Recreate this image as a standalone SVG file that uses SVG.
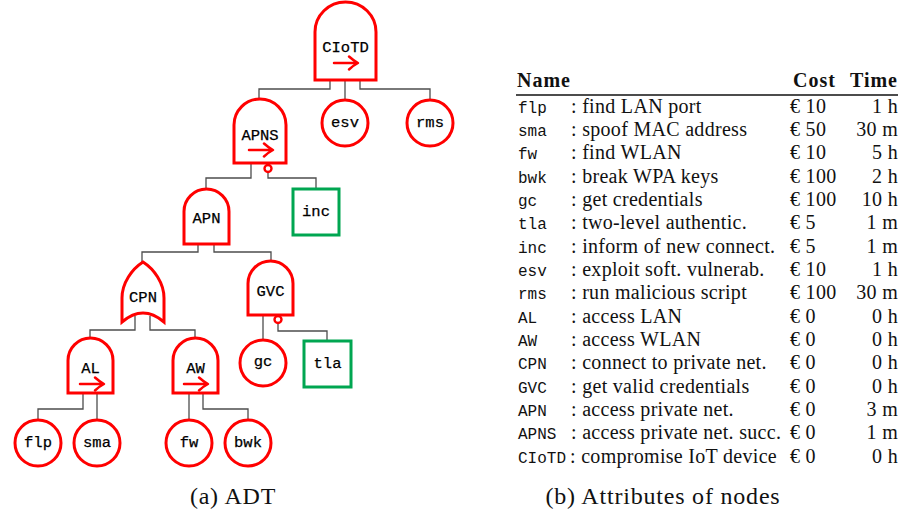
<svg xmlns="http://www.w3.org/2000/svg" width="904" height="517" viewBox="0 0 904 517">
<defs>
<style>
.gate{fill:#fff;stroke:#ff0000;stroke-width:3;stroke-linejoin:miter}
.leaf{fill:#fff;stroke:#ff0000;stroke-width:3}
.cm{fill:#fff;stroke:#00a651;stroke-width:3}
.neg{fill:#fff;stroke:#ff0000;stroke-width:2.4}
.arr{fill:none;stroke:#ff0000;stroke-width:2.5;stroke-linecap:round;stroke-linejoin:round}
.lbl{font-family:"Liberation Mono","DejaVu Sans Mono",monospace;font-size:15.5px;fill:#000;text-anchor:middle;stroke:#000;stroke-width:0.25}
.con path{fill:none;stroke:#4d4d4d;stroke-width:1.3}
.tx{font-family:"Liberation Serif","DejaVu Serif",serif;font-size:20px;letter-spacing:0.3px;fill:#111}
.tb{font-family:"Liberation Serif","DejaVu Serif",serif;font-size:20px;font-weight:bold;letter-spacing:1px;fill:#111}
.tm{font-family:"Liberation Mono","DejaVu Sans Mono",monospace;font-size:16px;fill:#111}
.cap{font-family:"Liberation Serif","DejaVu Serif",serif;font-size:24px;letter-spacing:0.8px;fill:#111;text-anchor:middle}
</style>
</defs>
<rect width="904" height="517" fill="#fff"/>

<g id="connectors" class="con">
<path d="M330 80 V89 H259 V99"/>
<path d="M345 80 V100"/>
<path d="M360 80 V89 H430 V100"/>
<path d="M251 163 V178 H206 V189"/>
<path d="M268 172 V178 H316 V189"/>
<path d="M198 244 V252 H142 V262"/>
<path d="M214 244 V252 H271 V261"/>
<path d="M135 316 V330 H90 V338"/>
<path d="M150 316 V330 H195 V338"/>
<path d="M263 315 V340"/>
<path d="M278 323 V331 H327 V341"/>
<path d="M83 393 V409 H38 V420"/>
<path d="M97 393 V420"/>
<path d="M189 393 V420"/>
<path d="M203 393 V409 H248 V420"/>
</g>

<g id="CIoTD">
<path class="gate" d="M315 80 V32 A30.5 30 0 0 1 376 32 V80 Z"/>
<text class="lbl" x="345.5" y="52">CIoTD</text>
<path class="arr" d="M334 63 H357 M349 56.5 Q354 61 358 63 Q354 65 349 69.5"/>
</g>
<g id="esv"><circle class="leaf" cx="345" cy="123" r="23"/><text class="lbl" x="345" y="127">esv</text></g>
<g id="rms"><circle class="leaf" cx="430" cy="123" r="23"/><text class="lbl" x="430" y="127">rms</text></g>

<g id="APNS">
<path class="gate" d="M234 163 V125 A26 26 0 0 1 286 125 V163 Z"/>
<text class="lbl" x="260" y="140">APNS</text>
<path class="arr" d="M249 150 H272 M264 143.5 Q269 148 273 150 Q269 152 264 156.5"/>
<circle class="neg" cx="268" cy="168.5" r="3.5"/>
</g>
<g id="inc"><rect class="cm" x="293" y="189" width="46" height="46"/><text class="lbl" x="316" y="216">inc</text></g>

<g id="APN">
<path class="gate" d="M184 244 V211.5 A22.5 22.5 0 0 1 229 211.5 V244 Z"/>
<text class="lbl" x="206.5" y="223">APN</text>
</g>

<g id="CPN">
<path class="gate" d="M143 262 C154 269 164 283 164 298 V322 Q143 304 122 322 V298 C122 283 132 269 143 262 Z"/>
<text class="lbl" x="143" y="302">CPN</text>
</g>

<g id="GVC">
<path class="gate" d="M248 315 V283.5 A22.5 22.5 0 0 1 293 283.5 V315 Z"/>
<text class="lbl" x="270.5" y="296">GVC</text>
<circle class="neg" cx="278" cy="319.5" r="3.5"/>
</g>
<g id="gc"><circle class="leaf" cx="263" cy="363" r="23"/><text class="lbl" x="263" y="366">gc</text></g>
<g id="tla"><rect class="cm" x="304" y="341" width="47" height="46"/><text class="lbl" x="327.5" y="368">tla</text></g>

<g id="AL">
<path class="gate" d="M68 393 V360.5 A22.5 22.5 0 0 1 113 360.5 V393 Z"/>
<text class="lbl" x="90.5" y="373">AL</text>
<path class="arr" d="M80 384 H103 M95 377.5 Q100 382 104 384 Q100 386 95 390.5"/>
</g>
<g id="AW">
<path class="gate" d="M173 393 V360.5 A22.5 22.5 0 0 1 218 360.5 V393 Z"/>
<text class="lbl" x="195.5" y="373">AW</text>
<path class="arr" d="M184 384 H207 M199 377.5 Q204 382 208 384 Q204 386 199 390.5"/>
</g>

<g id="flp"><circle class="leaf" cx="38" cy="443" r="23"/><text class="lbl" x="38" y="447">flp</text></g>
<g id="sma"><circle class="leaf" cx="97" cy="443" r="23"/><text class="lbl" x="97" y="447">sma</text></g>
<g id="fw"><circle class="leaf" cx="189" cy="443" r="23"/><text class="lbl" x="189" y="447">fw</text></g>
<g id="bwk"><circle class="leaf" cx="248" cy="443" r="23"/><text class="lbl" x="248" y="447">bwk</text></g>

<text class="cap" x="233" y="504">(a) ADT</text>

<g id="table">
<text class="tb" x="517" y="87">Name</text>
<text class="tb" x="793" y="87">Cost</text>
<text class="tb" x="898" y="87" text-anchor="end">Time</text>
<line x1="516" y1="95" x2="898" y2="95" stroke="#111" stroke-width="1.6"/>

<g class="tm">
<text x="518" y="112.5">flp</text>
<text x="518" y="135.8">sma</text>
<text x="518" y="159.2">fw</text>
<text x="518" y="182.5">bwk</text>
<text x="518" y="205.8">gc</text>
<text x="518" y="229.2">tla</text>
<text x="518" y="252.5">inc</text>
<text x="518" y="275.8">esv</text>
<text x="518" y="299.2">rms</text>
<text x="518" y="322.5">AL</text>
<text x="518" y="345.8">AW</text>
<text x="518" y="369.2">CPN</text>
<text x="518" y="392.5">GVC</text>
<text x="518" y="415.8">APN</text>
<text x="518" y="439.2">APNS</text>
<text x="518" y="462.5">CIoTD</text>
</g>
<g class="tx">
<text x="571" y="112.5">: find LAN port</text>
<text x="571" y="135.8">: spoof MAC address</text>
<text x="571" y="159.2">: find WLAN</text>
<text x="571" y="182.5">: break WPA keys</text>
<text x="571" y="205.8">: get credentials</text>
<text x="571" y="229.2">: two-level authentic.</text>
<text x="571" y="252.5">: inform of new connect.</text>
<text x="571" y="275.8">: exploit soft. vulnerab.</text>
<text x="571" y="299.2">: run malicious script</text>
<text x="571" y="322.5">: access LAN</text>
<text x="571" y="345.8">: access WLAN</text>
<text x="571" y="369.2">: connect to private net.</text>
<text x="571" y="392.5">: get valid credentials</text>
<text x="571" y="415.8">: access private net.</text>
<text x="571" y="439.2">: access private net. succ.</text>
<text x="570" y="462.5">: compromise IoT device</text>
</g>
<g class="tx">
<text x="790" y="112.5">€ 10</text>
<text x="790" y="135.8">€ 50</text>
<text x="790" y="159.2">€ 10</text>
<text x="790" y="182.5">€ 100</text>
<text x="790" y="205.8">€ 100</text>
<text x="790" y="229.2">€ 5</text>
<text x="790" y="252.5">€ 5</text>
<text x="790" y="275.8">€ 10</text>
<text x="790" y="299.2">€ 100</text>
<text x="790" y="322.5">€ 0</text>
<text x="790" y="345.8">€ 0</text>
<text x="790" y="369.2">€ 0</text>
<text x="790" y="392.5">€ 0</text>
<text x="790" y="415.8">€ 0</text>
<text x="790" y="439.2">€ 0</text>
<text x="790" y="462.5">€ 0</text>
</g>
<g class="tx" text-anchor="end">
<text x="898" y="112.5">1 h</text>
<text x="898" y="135.8">30 m</text>
<text x="898" y="159.2">5 h</text>
<text x="898" y="182.5">2 h</text>
<text x="898" y="205.8">10 h</text>
<text x="898" y="229.2">1 m</text>
<text x="898" y="252.5">1 m</text>
<text x="898" y="275.8">1 h</text>
<text x="898" y="299.2">30 m</text>
<text x="898" y="322.5">0 h</text>
<text x="898" y="345.8">0 h</text>
<text x="898" y="369.2">0 h</text>
<text x="898" y="392.5">0 h</text>
<text x="898" y="415.8">3 m</text>
<text x="898" y="439.2">1 m</text>
<text x="898" y="462.5">0 h</text>
</g>
</g>
<text class="cap" x="663" y="504">(b) Attributes of nodes</text>
</svg>
